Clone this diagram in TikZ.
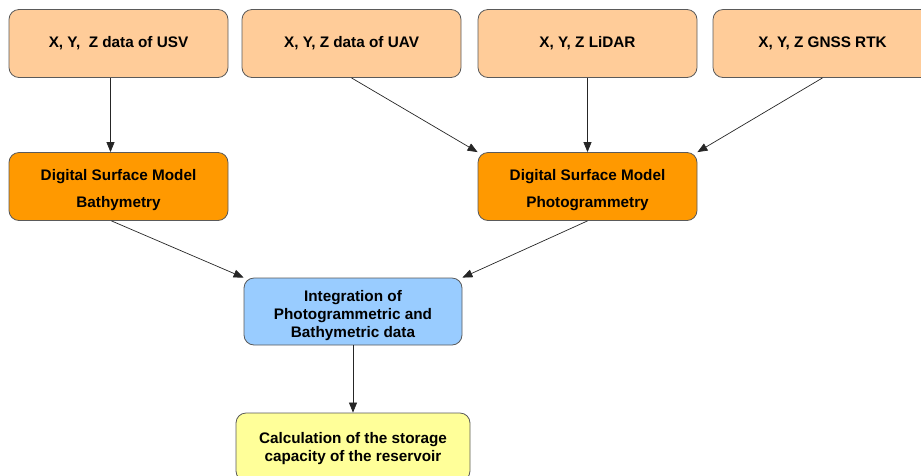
\documentclass[tikz,border=0pt]{standalone}
\usepackage{fontspec}
\setmainfont{Liberation Sans}
\usetikzlibrary{arrows.meta}
\definecolor{peach}{HTML}{FFCC99}
\definecolor{dsmorange}{HTML}{FF9900}
\definecolor{integblue}{HTML}{99CCFF}
\definecolor{calcyellow}{HTML}{FFFF99}
\definecolor{edgegray}{HTML}{5A5A5A}
\newcommand{\pushdown}{\rule{0pt}{19pt}}
\begin{document}
\begin{tikzpicture}[x=1pt,y=-1pt,
  box/.style={draw=edgegray, line width=0.8pt, rounded corners=10pt,
    minimum width=219pt, minimum height=68pt, inner sep=0pt, align=center,
    font=\fontsize{15.3}{18}\selectfont\bfseries},
  inbox/.style={box, fill=peach},
  dsmbox/.style={box, fill=dsmorange},
  conn/.style={draw=black!85, line width=0.7pt, -{Triangle[length=10pt,width=8pt]}}
]
\useasboundingbox (0,0) rectangle (921,475);
\node[inbox] (usv) at (118.5,43.5) {X, Y,\ \ Z data of USV};
\node[inbox] (uav) at (351.5,43.5) {X, Y, Z data of UAV};
\node[inbox] (lidar) at (587.5,43.5) {X, Y, Z LiDAR};
\node[inbox] (gnss) at (822.5,43.5) {X, Y, Z GNSS RTK};
\node[dsmbox] (bathy) at (118.5,186.5) {\pushdown Digital Surface Model\\[9pt]Bathymetry};
\node[dsmbox] (photo) at (587.5,186.5) {\pushdown Digital Surface Model\\[9pt]Photogrammetry};
\node[box, fill=integblue, minimum width=218pt, minimum height=67pt] (integ) at (353,311.5)
  {\pushdown Integration of\\Photogrammetric and\\Bathymetric data};
\node[box, fill=calcyellow, minimum width=234pt] (calc) at (353,447)
  {\rule{0pt}{15pt}Calculation of the storage\\capacity of the reservoir};
\draw[conn] ([xshift=-8pt]usv.south) -- ([xshift=-8pt]bathy.north);
\draw[conn] (uav.south) -- (photo.north west);
\draw[conn] (lidar.south) -- (photo.north);
\draw[conn] (gnss.south) -- (photo.north east);
\draw[conn] ([xshift=-7pt]bathy.south) -- (integ.north west);
\draw[conn] (photo.south) -- (integ.north east);
\draw[conn] (integ.south) -- (calc.north);
\end{tikzpicture}
\end{document}
